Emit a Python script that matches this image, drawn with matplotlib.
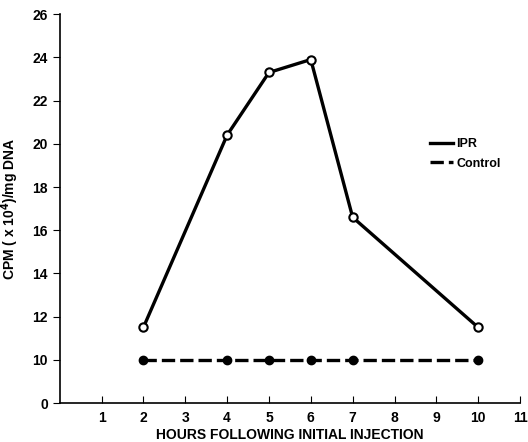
import matplotlib.pyplot as plt

hours = [2, 4, 5, 6, 7, 10]
ipr = [11.5, 20.4, 23.3, 23.9, 16.6, 11.5]
control = [10.0, 10.0, 10.0, 10.0, 10.0, 10.0]

x_ticks = list(range(1, 12))
y_ticks = [8, 10, 12, 14, 16, 18, 20, 22, 24, 26]
y_labels = ["0", "10", "12", "14", "16", "18", "20", "22", "24", "26"]

plt.rcParams['font.family'] = ['Liberation Sans', 'DejaVu Sans']
plt.rcParams['font.weight'] = 'bold'
plt.rcParams['axes.labelweight'] = 'bold'

fig = plt.figure(figsize=(5.28, 4.42), dpi=100)
ax = fig.add_axes([0.113, 0.088, 0.872, 0.88])

ax.plot(hours, ipr, color='black', lw=2.4, marker='o', ms=6,
        mfc='white', mec='black', mew=1.5, label='IPR')
ax.plot(hours, control, color='black', lw=2.4, ls=(0, (4, 1.5)), marker='o',
        ms=6, mfc='black', mec='black', label='Control')

ax.set_xlim(0, 11)
ax.set_ylim(8, 26)
ax.set_xticks(x_ticks)
ax.set_xticklabels([str(t) for t in x_ticks])
ax.set_yticks(y_ticks)
ax.set_yticklabels(y_labels)

ax.spines['top'].set_visible(False)
ax.spines['right'].set_visible(False)
ax.spines['left'].set_linewidth(1.2)
ax.spines['bottom'].set_linewidth(1.2)
ax.tick_params(axis='x', direction='in', length=5, labelsize=10, pad=6)
ax.tick_params(axis='y', direction='out', length=5, labelsize=10)

ax.set_xlabel('HOURS FOLLOWING INITIAL INJECTION', fontsize=10, labelpad=2)
ax.set_ylabel('CPM ( x 10$^\\mathbf{4}$)/mg DNA', fontsize=10, labelpad=8)

leg = ax.legend(handles=[ax.lines[0], ax.lines[1]], loc='upper left',
                bbox_to_anchor=(0.78, 0.71), frameon=False, fontsize=9,
                handlelength=1.8, handletextpad=0.3, labelspacing=0.6)
for h in leg.legend_handles:
    h.set_marker('')

fig.savefig('out.png', dpi=100)
